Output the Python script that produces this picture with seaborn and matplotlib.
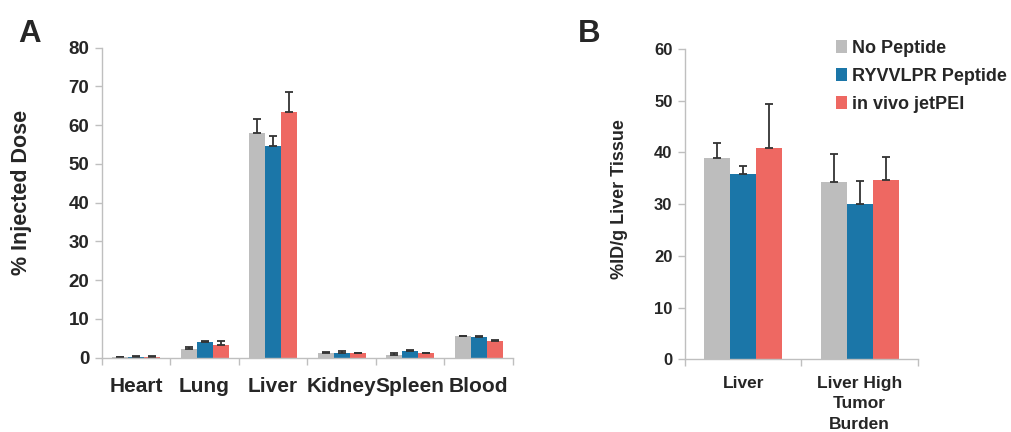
import numpy as np
import pandas as pd
import seaborn as sns
import matplotlib.pyplot as plt
from matplotlib.patches import Patch

groups = ['No Peptide', 'RYVVLPR Peptide', 'in vivo jetPEI']
colors = ['#BDBDBD', '#1B76A8', '#EE6862']

organs = ['Heart', 'Lung', 'Liver', 'Kidney', 'Spleen', 'Blood']
dose_no = [0.2, 2.2, 57.9, 1.3, 0.8, 5.5]
dose_ryv = [0.3, 4.1, 54.6, 1.3, 1.6, 5.4]
dose_jet = [0.3, 3.3, 63.5, 1.1, 1.1, 4.4]
dose_no_err = [0.1, 0.6, 3.6, 0.2, 0.3, 0.1]
dose_ryv_err = [0.1, 0.2, 2.6, 0.5, 0.4, 0.1]
dose_jet_err = [0.1, 0.9, 5.0, 0.2, 0.2, 0.1]

tissues = ['Liver', 'Liver High\nTumor\nBurden']
liver_no = [39.0, 34.3]
liver_ryv = [35.8, 30.0]
liver_jet = [40.8, 34.7]
liver_no_err = [2.9, 5.3]
liver_ryv_err = [1.6, 4.5]
liver_jet_err = [8.6, 4.4]

sns.set_theme(style='white')
plt.rcParams['font.family'] = ['Liberation Sans', 'DejaVu Sans']
plt.rcParams['font.weight'] = 'bold'

spine_c = '#BFBFBF'


def long_df(cats, series):
    rows = []
    for g, vals in zip(groups, series):
        for c, v in zip(cats, vals):
            rows.append({'cat': c, 'group': g, 'value': v})
    return pd.DataFrame(rows)


def draw(ax, cats, series, errs, ymax, ystep, width, fs_y, fs_x, xpad):
    df = long_df(cats, series)
    sns.barplot(data=df, x='cat', y='value', hue='group', palette=colors,
                hue_order=groups, order=cats, width=width, saturation=1,
                errorbar=None, linewidth=0, legend=False, ax=ax)
    for cont, err in zip(ax.containers, errs):
        xs = [p.get_x() + p.get_width() / 2 for p in cont]
        ys = [p.get_height() for p in cont]
        ax.errorbar(xs, ys, yerr=[np.zeros(len(err)), err], fmt='none',
                    ecolor='#333333', elinewidth=1.3, capsize=3, capthick=1.3)
    n = len(cats)
    ax.set_xlim(-0.5, n - 0.5)
    ax.set_ylim(0, ymax)
    ax.set_yticks(np.arange(0, ymax + 1, ystep))
    ax.set_xticks(np.arange(n + 1) - 0.5, minor=True)
    ax.tick_params(axis='x', which='major', length=0, pad=xpad, labelsize=fs_x)
    ax.tick_params(axis='x', which='minor', length=5, color=spine_c, width=1,
                   direction='out', bottom=True)
    ax.tick_params(axis='y', length=5, color=spine_c, width=1, direction='out',
                   left=True, labelsize=fs_y, pad=4)
    for lab in ax.get_xticklabels() + ax.get_yticklabels():
        lab.set_fontweight('bold')
        lab.set_linespacing(1.45)
    sns.despine(ax=ax)
    for s in ['left', 'bottom']:
        ax.spines[s].set_color(spine_c)
        ax.spines[s].set_linewidth(1)
    ax.set_xlabel('')
    ax.set_ylabel('')


fig = plt.figure(figsize=(10.11, 4.32), dpi=100)
ax1 = fig.add_axes([0.1006, 0.172, 0.4068, 0.7176])
ax2 = fig.add_axes([0.6775, 0.1683, 0.2305, 0.7183])

draw(ax1, organs, [dose_no, dose_ryv, dose_jet],
     [dose_no_err, dose_ryv_err, dose_jet_err], 80, 10, 0.7, 13.5, 15, 14)
draw(ax2, tissues, [liver_no, liver_ryv, liver_jet],
     [liver_no_err, liver_ryv_err, liver_jet_err], 60, 10, 0.67, 12, 12.5, 12)

fig.text(22 / 1011, 1 - 192 / 432, '% Injected Dose', fontsize=15.5,
         fontweight='bold', rotation=90, ha='center', va='center')
fig.text(619 / 1011, 1 - 199 / 432, '%ID/g Liver Tissue', fontsize=13,
         fontweight='bold', rotation=90, ha='center', va='center')

fig.text(18 / 1011, 1 - 42 / 432, 'A', fontsize=22.5, fontweight='bold', va='baseline')
fig.text(578 / 1011, 1 - 42 / 432, 'B', fontsize=22.5, fontweight='bold', va='baseline')

handles = [Patch(facecolor=c, edgecolor='none') for c in colors]
fig.legend(handles, groups, loc='upper left', bbox_to_anchor=(836 / 1011, 1 - 40 / 432),
           frameon=False, handlelength=0.6, handleheight=0.75,
           handletextpad=0.3, labelspacing=0.6, borderaxespad=0, borderpad=0,
           prop={'weight': 'bold', 'size': 13})

fig.savefig('out.png', dpi=100)
